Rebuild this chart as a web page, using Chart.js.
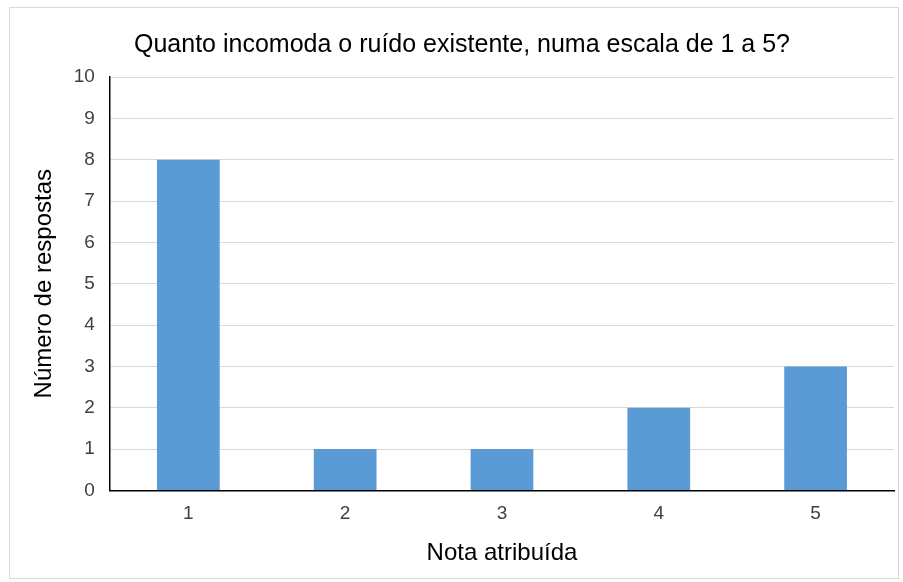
<!DOCTYPE html>
<html>
<head>
<meta charset="utf-8">
<script src="https://cdn.jsdelivr.net/npm/chart.js@4"></script>
<style>
  html, body { margin: 0; padding: 0; background: #fff; }
  #box {
    position: absolute; left: 9px; top: 7px;
    width: 890px; height: 572px;
    border: 1px solid #d9d9d9; box-sizing: border-box;
  }
  canvas { display: block; }
</style>
</head>
<body>
<div id="box"><canvas id="noiseChart"></canvas></div>
<script>
// Dados
const notas = ['1', '2', '3', '4', '5'];
const respostas = [8, 1, 1, 2, 3];
const yMin = 0;
const yMax = 10;

const ctx = document.getElementById('noiseChart').getContext('2d');
new Chart(ctx, {
    type: 'bar',
    data: {
        labels: notas,
        datasets: [{
            label: 'Número de respostas',
            data: respostas,
            backgroundColor: '#5b9bd5',
            borderWidth: 0,
            barPercentage: 0.4,
            categoryPercentage: 1
        }]
    },
    options: {
        responsive: true,
        maintainAspectRatio: false,
        animation: false,
        layout: { padding: { left: 20, right: 4, top: 16, bottom: 6 } },
        plugins: {
            legend: { display: false },
            tooltip: { enabled: false },
            title: {
                display: true,
                text: 'Quanto incomoda o ruído existente, numa escala de 1 a 5?',
                color: '#000',
                font: { family: 'Liberation Sans', size: 25, weight: 'normal' },
                padding: { top: 6, bottom: 17 }
            }
        },
        scales: {
            x: {
                grid: { display: false, drawTicks: false },
                border: { color: '#000', width: 1.5 },
                ticks: {
                    color: '#404040',
                    font: { family: 'Liberation Sans', size: 19 },
                    padding: 12
                },
                title: {
                    display: true,
                    text: 'Nota atribuída',
                    color: '#000',
                    font: { family: 'Liberation Sans', size: 24 },
                    padding: { top: 2 }
                }
            },
            y: {
                min: yMin,
                max: yMax,
                grid: { color: '#d9d9d9', drawTicks: false },
                border: { color: '#000', width: 1.5 },
                ticks: {
                    stepSize: 1,
                    color: '#404040',
                    font: { family: 'Liberation Sans', size: 19 },
                    padding: 15
                },
                title: {
                    display: true,
                    text: 'Número de respostas',
                    color: '#000',
                    font: { family: 'Liberation Sans', size: 24 },
                    padding: 0
                }
            }
        }
    }
});
</script>
</body>
</html>
